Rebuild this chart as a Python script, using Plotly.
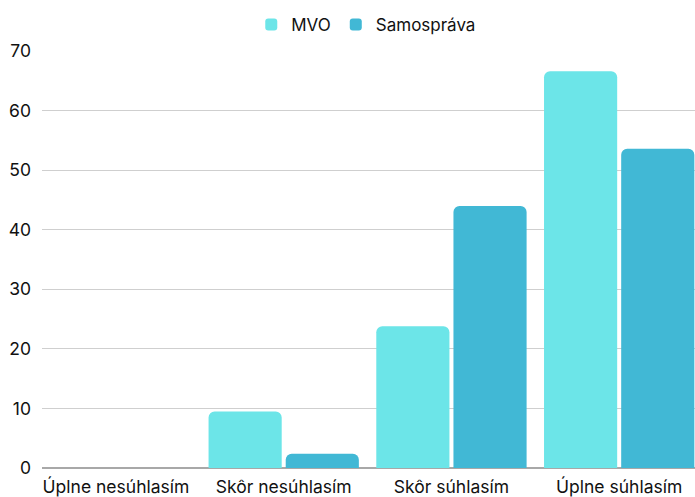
import plotly.graph_objects as go

categories = ["Úplne nesúhlasím", "Skôr nesúhlasím", "Skôr súhlasím", "Úplne súhlasím"]
mvo = [0, 9.5, 23.8, 66.6]
samosprava = [0, 2.4, 44.0, 53.6]
y_ticks = [0, 10, 20, 30, 40, 50, 60, 70]

fig = go.Figure()
fig.add_trace(go.Bar(name="MVO", x=categories, y=mvo, marker=dict(color="#6CE5E8", line=dict(width=0))))
fig.add_trace(go.Bar(name="Samospráva", x=categories, y=samosprava, marker=dict(color="#41B8D5", line=dict(width=0))))

fig.update_layout(
    width=695, height=497,
    margin=dict(l=42, r=0, t=51, b=29, autoexpand=False),
    paper_bgcolor="white", plot_bgcolor="white",
    font=dict(family="Inter, Roboto, sans-serif", size=16.5, color="#111"),
    barmode="group", bargap=0.08, bargroupgap=0.052,
    barcornerradius=6,
    legend=dict(orientation="h", x=0.527, xanchor="center", y=1 - 25 / 497, yanchor="middle",
                yref="container", xref="container",
                font=dict(size=17), itemwidth=30, traceorder="normal"),
    xaxis=dict(showgrid=False, ticks="", showline=False, tickfont=dict(size=17.5), automargin=False,
               range=[-0.441, 3.452], ticklabelstandoff=6),
    xaxis2=dict(overlaying="x", side="top", showline=True, linecolor="#dedede", linewidth=2,
                showticklabels=False, showgrid=False, zeroline=False, ticks="", automargin=False,
                range=[0, 1]),
    yaxis=dict(range=[0, 70], tickvals=y_ticks, showgrid=True, gridcolor="#cfcfcf", gridwidth=1,
               zeroline=True, zerolinecolor="#a8a8a8", zerolinewidth=2, ticks="", showline=False,
               tickfont=dict(size=17.5), automargin=False, ticklabelstandoff=10),
)
fig.write_html("out.html", config={"displayModeBar": False},
               post_script="document.body.style.margin='0';document.body.style.overflow='hidden';")
